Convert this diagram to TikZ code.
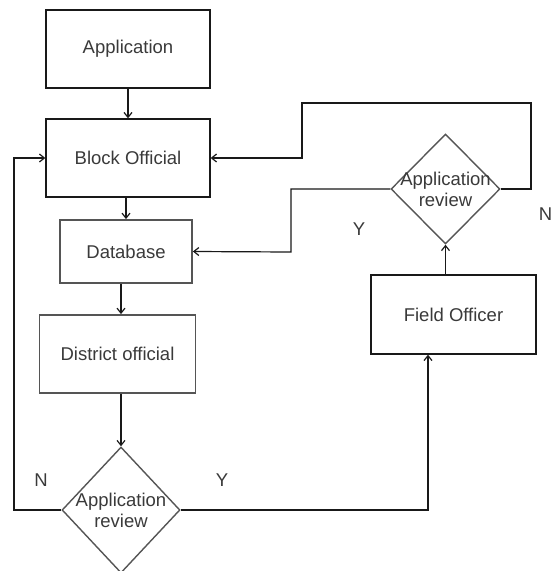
\documentclass[tikz,border=0pt]{standalone}
\usepackage{fontspec}
\setmainfont{Liberation Sans}
\usetikzlibrary{shapes.geometric,arrows.meta}
\definecolor{txt}{HTML}{3A3A3A}
\definecolor{gbord}{HTML}{555555}
\begin{document}
\begin{tikzpicture}[x=1pt,y=-1pt,
  every node/.style={font=\fontsize{18.5}{22}\selectfont, text=txt},
  box/.style={draw=black!90, line width=1.3pt, minimum width=#1, inner sep=0, anchor=center},
  gbox/.style={draw=gbord, line width=1.8pt, inner sep=0, anchor=center},
  dec/.style={diamond, draw=gbord, line width=1.4pt, inner sep=0, align=center, anchor=center},
  conn/.style={draw=black!90, line width=1.2pt},
  arr/.style={conn, -{Straight Barb[length=5pt,width=8pt]}},
  lab/.style={inner sep=0, anchor=center}]
\useasboundingbox (0,0) rectangle (553,571);
\fill[white] (0,0) rectangle (553,571);
\node[box=164pt, minimum height=78pt] (app) at (128,49) {Application};
\node[box=164pt, minimum height=78pt] (blk) at (128,158) {Block Official};
\node[gbox, minimum width=132pt, minimum height=63pt] (db) at (126,251.5) {Database};
\node[gbox, minimum width=156pt, minimum height=78pt] (dist) at (117.5,354) {District official};
\node[dec, minimum width=118pt, minimum height=126pt] (d1) at (121,510) {\makebox[0pt]{Application}\\[-1pt]\makebox[0pt]{review}};
\node[box=165pt, minimum height=79pt] (fo) at (453.5,314.5) {Field Officer};
\node[dec, minimum width=109pt, minimum height=110pt] (d2) at (445.5,189) {\makebox[0pt]{Application}\\[-1pt]\makebox[0pt]{review}};
\node[lab] (lN1) at (41,480) {N};
\node[lab] (lY1) at (222,480) {Y};
\node[lab] (lY2) at (359,229) {Y};
\node[lab] (lN2) at (545.5,214) {N};
\coordinate (c1) at (428,510);
\coordinate (c2) at (14,510);
\coordinate (c3) at (531,103);
\coordinate (c4) at (302,103);
\coordinate (c5) at (291,189);
\draw[arr] (app.south) -- (blk.north);
\draw[arr] (blk.south -| db.north) -- (db.north);
\draw[arr] (d1.north |- db.south) -- (d1.north |- dist.north);
\draw[arr] (d1.north |- dist.south) -- (d1.north);
\draw[arr] (d1.west) -- (c2) -- (c2 |- blk.west) -- (blk.west);
\draw[arr] (d1.east) -- (c1) -- (c1 |- fo.south);
\draw[arr] (d2.south |- fo.north) -- (d2.south);
\draw[arr] (d2.east) -- (c3 |- d2.east) -- (c3) -- (c4) -- (c4 |- blk.east) -- (blk.east);
\draw[arr] (d2.west) -- (c5) -- (c5 |- 0,252) -- (db.east);
\end{tikzpicture}
\end{document}
